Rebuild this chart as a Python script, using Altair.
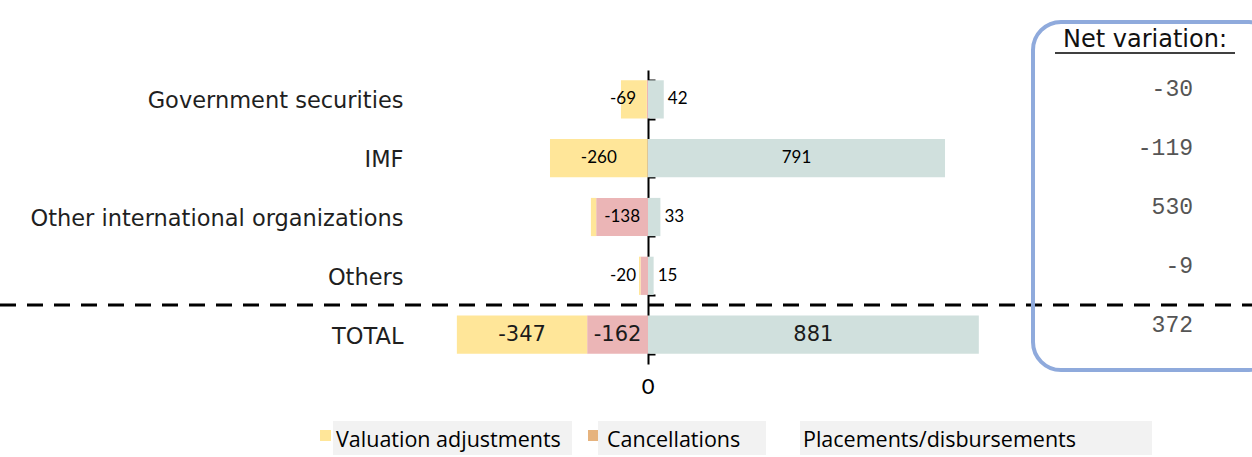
import altair as alt
import pandas as pd

categories = ["Government securities", "IMF", "Other international organizations", "Others", "TOTAL"]
valuation = [-69, -260, -14, -4, -347]
cancellations = [-3, -1, -138, -20, -162]
placements = [42, 791, 33, 15, 881]
net_variation = [-30, -119, 530, -9, 372]
series = ["Valuation adjustments", "Cancellations", "Placements/disbursements"]
colors = ["#FFE699", "#EBB5B6", "#D0E0DD"]
legend_swatch = ["#FFE699", "#E6B37E", "#F2F2F2"]

rows = []
for i, cat in enumerate(categories):
    c = cancellations[i]
    v = valuation[i]
    p = placements[i]
    rows.append(dict(cat=cat, series=series[1], value=c, start=0, end=c))
    rows.append(dict(cat=cat, series=series[0], value=v, start=c, end=c + v))
    rows.append(dict(cat=cat, series=series[2], value=p, start=0, end=p))
df = pd.DataFrame(rows)
df["mid"] = (df["start"] + df["end"]) / 2
df["absv"] = df["value"].abs()
df["total"] = df["cat"] == "TOTAL"
df["label"] = df["value"].astype(str)

W, H = 837, 294
XS = alt.Scale(domain=[-620.5, 1608.5], nice=False, zero=False)
ysort = categories
GEO = "DejaVu Sans"

y_left = alt.Y("cat:N", sort=ysort,
               scale=alt.Scale(paddingInner=0.35, paddingOuter=0.175),
               axis=alt.Axis(title=None, ticks=False, domain=False, labelFont=GEO,
                             labelFontSize=22.5, labelColor="#1f1f1f", labelPadding=12,
                             labelOffset=2, labelLimit=600, grid=False))

bars = alt.Chart(df).mark_bar().encode(
    y=y_left,
    x=alt.X("start:Q", scale=XS, axis=None),
    x2="end:Q",
    color=alt.Color("series:N", scale=alt.Scale(domain=series, range=colors), legend=None),
)

axis_layer = alt.Chart(pd.DataFrame({"cat": categories})).mark_point(opacity=0).encode(
    y=alt.Y("cat:N", sort=ysort,
            axis=alt.Axis(orient="right", offset=-604, labels=False, title=None, tickBand="extent",
                          domainColor="black", domainWidth=2, tickColor="black", tickWidth=2,
                          tickSize=7, grid=False)),
)

base = alt.Chart(df)
ynoax = alt.Y("cat:N", sort=ysort, axis=None)

big = base.transform_filter("datum.absv >= 100 && !datum.total").mark_text(
    font="Lato", fontSize=17, color="#000000", align="center", baseline="middle").encode(
    y=ynoax, x=alt.X("mid:Q", scale=XS, axis=None), text="label:N")

small_pos = base.transform_filter("datum.absv >= 15 && datum.absv < 100 && datum.value > 0 && !datum.total").mark_text(
    font="Lato", fontSize=17, color="#000000", align="left", baseline="middle", dx=4).encode(
    y=ynoax, x=alt.X("end:Q", scale=XS, axis=None), text="label:N")

small_neg = base.transform_filter("datum.absv >= 15 && datum.absv < 100 && datum.value < 0 && !datum.total").mark_text(
    font="Lato", fontSize=17, color="#000000", align="right", baseline="middle", dx=-12).encode(
    y=ynoax, x=alt.datum(0, scale=XS, axis=None), text="label:N")

total_lbl = base.transform_filter("datum.total && datum.absv >= 15").mark_text(
    font=GEO, fontSize=21, color="#1a1a1a", align="center", baseline="middle").encode(
    y=ynoax, x=alt.X("mid:Q", scale=XS, axis=None), text="label:N")

one = pd.DataFrame({"a": [0]})

zero_lbl = alt.Chart(one).mark_text(font="Lato", fontSize=22, color="#000000",
                                    align="center", baseline="middle").encode(
    x=alt.datum(0, scale=XS, axis=None), y=alt.value(317), text=alt.value("0"))

dash = alt.Chart(one).mark_rule(color="black", strokeWidth=3, strokeDash=[16, 11]).encode(
    x=alt.value(-415), x2=alt.value(W), y=alt.value(235))

box = alt.Chart(one).mark_rect(fillOpacity=0, stroke="#8FAADC", strokeWidth=4, cornerRadius=28).encode(
    x=alt.value(618), x2=alt.value(862), y=alt.value(-48), y2=alt.value(300))

title = alt.Chart(one).mark_text(font=GEO, fontSize=24, color="#111111",
                                 align="center", baseline="middle").encode(
    x=alt.value(730), y=alt.value(-30), text=alt.value("Net variation:"))
underline = alt.Chart(one).mark_rule(color="#000000", strokeWidth=1.5).encode(
    x=alt.value(640), x2=alt.value(820), y=alt.value(-17))

net_df = pd.DataFrame({"cat": categories, "net": [str(v) for v in net_variation]})
net_txt = alt.Chart(net_df).mark_text(font="Liberation Mono", fontSize=23, color="#555555",
                                      align="right", baseline="middle", dy=-10).encode(
    y=ynoax, x=alt.value(778), text="net:N")

legend_layers = []
leg_boxes = [(-82, 157), (183, 351), (385, 737)]
leg_sw = [(-95, -84), (173, 183), None]
leg_tx = [-79, 192, 388]
for i in range(3):
    legend_layers.append(alt.Chart(one).mark_rect(color="#F2F2F2").encode(
        x=alt.value(leg_boxes[i][0]), x2=alt.value(leg_boxes[i][1]), y=alt.value(351), y2=alt.value(385)))
    if leg_sw[i] is not None:
        legend_layers.append(alt.Chart(one).mark_rect(color=legend_swatch[i]).encode(
            x=alt.value(leg_sw[i][0]), x2=alt.value(leg_sw[i][1]), y=alt.value(360), y2=alt.value(371)))
    legend_layers.append(alt.Chart(pd.DataFrame({"t": [series[i]]})).mark_text(
        font="Open Sans", fontSize=21.5, color="#000000", align="left", baseline="middle").encode(
        x=alt.value(leg_tx[i]), y=alt.value(371), text="t:N"))

chart = alt.layer(
    bars, axis_layer, big, small_pos, small_neg, total_lbl, zero_lbl, dash, box, title, underline,
    net_txt, *legend_layers
).resolve_axis(y="independent").properties(
    width=W, height=H,
    padding={"left": 415, "top": 70, "right": 0, "bottom": 93},
    autosize=alt.AutoSizeParams(type="none"),
    background="white",
).configure_view(strokeWidth=0)

chart.save("out.html", embed_options={"renderer": "svg", "actions": False})
